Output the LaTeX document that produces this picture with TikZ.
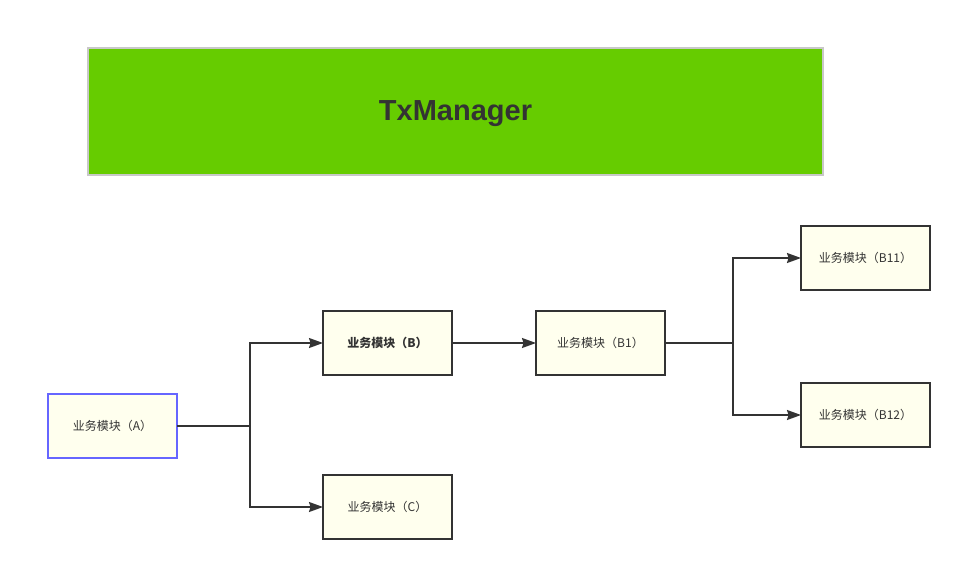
\documentclass[tikz,border=0pt]{standalone}
\usepackage{fontspec}
\setmainfont{Liberation Sans}
\newfontfamily\cjk{Noto Sans CJK SC}
\usetikzlibrary{arrows.meta}

\definecolor{mgrgreen}{HTML}{66CC00}
\definecolor{mgrframe}{HTML}{C8C8C8}
\definecolor{modfill}{HTML}{FFFFEE}
\definecolor{modline}{HTML}{333333}
\definecolor{modblue}{HTML}{6666FF}

\begin{document}
\begin{tikzpicture}[x=1pt, y=-1pt,
	module/.style={draw=modline, line width=1.5pt, fill=modfill, minimum width=129pt,
		minimum height=64pt, inner sep=0pt, outer sep=0pt, text=modline,
		font=\cjk\fontsize{12}{14}\selectfont},
	link/.style={draw=modline, line width=1.5pt, -{Stealth[length=14pt, width=10pt, inset=1.5pt]}}]
	\useasboundingbox (0,0) rectangle (962,571);

	% The transaction manager on top
	\node[draw=mgrframe, line width=2pt, fill=mgrgreen, minimum width=735pt, minimum height=127pt,
		inner sep=0pt] (mgr) at (455.5,111.5) {};
	\node[text=modline, font=\bfseries\fontsize{29}{32}\selectfont, yshift=-2.5pt]
		(mgrtitle) at (mgr.center) {TxManager};

	% The business modules
	\node[module, draw=modblue] (A) at (112.5,426) {业务模块（A）};
	\node[module, font=\cjk\bfseries\fontsize{12}{14}\selectfont] (B) at (387.5,343) {业务模块（B）};
	\node[module] (C) at (387.5,507) {业务模块（C）};
	\node[module] (B1) at (600.5,343) {业务模块（B1）};
	\node[module] (B11) at (865.5,258) {业务模块（B11）};
	\node[module] (B12) at (865.5,415) {业务模块（B12）};

	% Where the calls fork
	\coordinate (forkA) at (250,426);
	\coordinate (forkB1) at (733,343);

	% Calls between the modules
	\draw[line width=1.5pt, modline] (A.east) -- (forkA);
	\draw[link] (forkA) |- (B.west);
	\draw[link] (forkA) |- (C.west);
	\draw[link] (B.east) -- (B1.west);
	\draw[line width=1.5pt, modline] (B1.east) -- (forkB1);
	\draw[link] (forkB1) |- (B11.west);
	\draw[link] (forkB1) |- (B12.west);
\end{tikzpicture}
\end{document}
